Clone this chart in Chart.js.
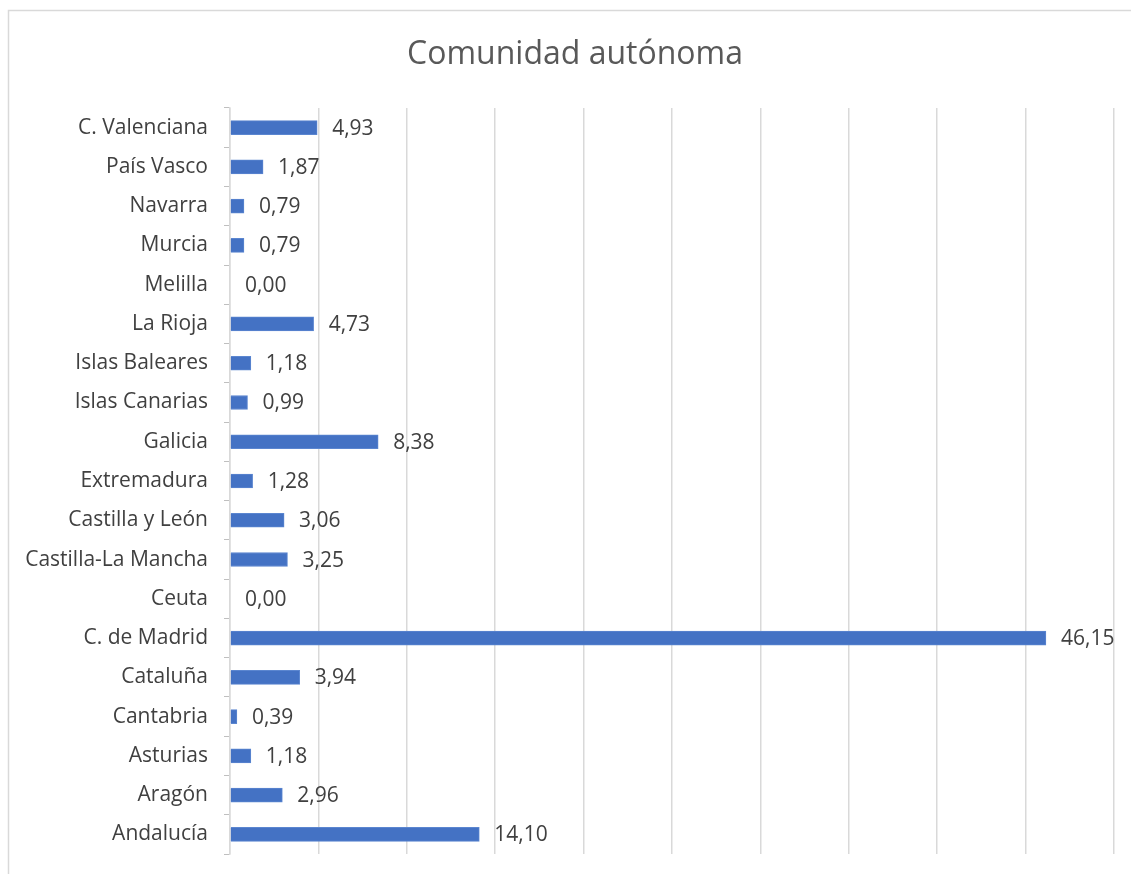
<!DOCTYPE html>
<html>
<head>
<meta charset="utf-8">
<script src="https://cdn.jsdelivr.net/npm/chart.js@4"></script>
<style>
    body { margin: 0; background: #fff; overflow: hidden; }
    canvas { display: block; }
</style>
</head>
<body>
<canvas id="grafico" width="1131" height="874"></canvas>
<script>
// Datos (de abajo hacia arriba)
const comunidades = ['Andalucía', 'Aragón', 'Asturias', 'Cantabria', 'Cataluña', 'C. de Madrid', 'Ceuta',
    'Castilla-La Mancha', 'Castilla y León', 'Extremadura', 'Galicia', 'Islas Canarias', 'Islas Baleares',
    'La Rioja', 'Melilla', 'Murcia', 'Navarra', 'País Vasco', 'C. Valenciana'];
const porcentajes = [14.10, 2.96, 1.18, 0.39, 3.94, 46.15, 0.00, 3.25, 3.06, 1.28, 8.38, 0.99, 1.18,
    4.73, 0.00, 0.79, 0.79, 1.87, 4.93];
const titulo = 'Comunidad autónoma';

const fuente = '"Open Sans", "Noto Sans", sans-serif';

// Marco gris y titulo (centrado sobre el marco, no sobre el canvas)
const marco = {
    id: 'marco',
    beforeDraw(chart) {
        const ctx = chart.ctx;
        ctx.save();
        ctx.strokeStyle = '#d9d9d9';
        ctx.lineWidth = 1.5;
        ctx.strokeRect(8.5, 10.5, 1140, 880);
        ctx.font = '32px ' + fuente;
        ctx.fillStyle = '#595959';
        ctx.textAlign = 'center';
        ctx.textBaseline = 'middle';
        ctx.fillText(titulo, 575, 55);
        ctx.restore();
    }
};

// Etiquetas de valor al final de cada barra
const etiquetas = {
    id: 'etiquetas',
    afterDatasetsDraw(chart) {
        const ctx = chart.ctx;
        const meta = chart.getDatasetMeta(0);
        ctx.save();
        ctx.font = '21px ' + fuente;
        ctx.fillStyle = '#404040';
        ctx.textAlign = 'left';
        ctx.textBaseline = 'middle';
        meta.data.forEach((bar, i) => {
            const txt = porcentajes[i].toFixed(2).replace('.', ',');
            ctx.fillText(txt, bar.x + 15, bar.y + 1);
        });
        ctx.restore();
    }
};

new Chart(document.getElementById('grafico'), {
    type: 'bar',
    data: {
        labels: comunidades,
        datasets: [{
            data: porcentajes,
            backgroundColor: '#4472c4',
            borderColor: '#5b86d0',
            borderWidth: 1,
            barThickness: 14
        }]
    },
    options: {
        indexAxis: 'y',
        responsive: false,
        animation: false,
        layout: { padding: { left: 0, right: 17, top: 108, bottom: 20 } },
        plugins: {
            legend: { display: false },
            tooltip: { enabled: false }
        },
        scales: {
            x: {
                min: 0,
                max: 50,
                afterFit(scale) { scale.height = 0; scale.paddingBottom = 0; scale.paddingTop = 0; },
                ticks: { display: false, stepSize: 5 },
                grid: { color: '#d9d9d9', lineWidth: 1.5, drawTicks: false },
                border: { display: false }
            },
            y: {
                reverse: true,
                afterFit(scale) { scale.width = 230; scale.paddingTop = 0; scale.paddingBottom = 0; },
                ticks: {
                    color: '#404040',
                    font: { family: fuente, size: 21 },
                    padding: 16
                },
                grid: { drawOnChartArea: false, color: '#bfbfbf', tickLength: 6, offset: true },
                border: { color: '#d9d9d9', width: 1.5 }
            }
        }
    },
    plugins: [marco, etiquetas]
});
</script>
</body>
</html>
